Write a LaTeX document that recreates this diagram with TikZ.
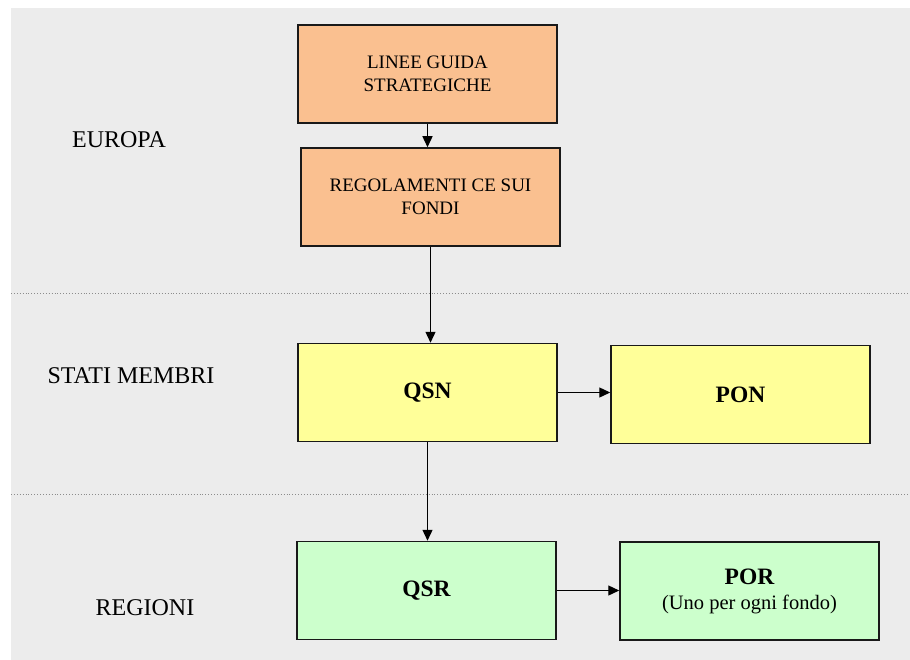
\documentclass[tikz,border=0pt]{standalone}
\usepackage{fontspec}
\setmainfont{Liberation Serif}
\usetikzlibrary{arrows.meta}
\definecolor{bgtex}{RGB}{236,236,236}
\definecolor{peach}{RGB}{250,192,144}
\definecolor{paleyellow}{RGB}{255,255,153}
\definecolor{palegreen}{RGB}{204,255,204}
\tikzstyle{blk}=[rectangle, draw=black!90, line width=1.5pt,
minimum width=259pt, minimum height=98pt, align=center,
font=\fontsize{19}{23.5}\selectfont]
\tikzstyle{eu}=[blk, fill=peach]
\tikzstyle{sm}=[blk, fill=paleyellow, font=\fontsize{23.5}{26}\selectfont\bfseries]
\tikzstyle{rg}=[blk, fill=palegreen, font=\fontsize{23.5}{26}\selectfont\bfseries]
\tikzstyle{lvl}=[font=\fontsize{24}{28}\selectfont]
\tikzstyle{flow}=[-{Triangle[length=11pt,width=10pt]}, line width=1.3pt]
\tikzstyle{sep}=[dotted, black!45, line width=0.9pt]
\begin{document}
\begin{tikzpicture}[x=1pt,y=-1pt]
\useasboundingbox (0,0) rectangle (910,660);
\fill[bgtex] (11,8) rectangle (910,660);
% livelli
\draw[sep] (11,293) -- (910,293);
\draw[sep] (11,494) -- (910,494);
\node[lvl] (europa) at (119,140) {EUROPA};
\node[lvl] (stati) at (131,376) {STATI MEMBRI};
\node[lvl] (regioni) at (145,608) {REGIONI};
% blocchi
\node[eu] (lgs) at (427.5,74) {LINEE GUIDA\\STRATEGICHE};
\node[eu] (reg) at (430.5,197) {REGOLAMENTI CE SUI\\FONDI};
\node[sm] (qsn) at (427.5,392.5) {QSN};
\node[sm] (pon) at (740.5,394.5) {PON};
\node[rg] (qsr) at (426.5,590.5) {QSR};
\node[rg] (por) at (749.5,591) {POR\\[-1pt]{\mdseries\fontsize{20.5}{24}\selectfont (Uno per ogni fondo)}};
% frecce
\draw[flow] (lgs.south) -- (lgs.south |- reg.north);
\draw[flow] (reg.south) -- (reg.south |- qsn.north);
\draw[flow] (qsn.east) -- (qsn.east -| pon.west);
\draw[flow] (qsn.south) -- (qsn.south |- qsr.north);
\draw[flow] (qsr.east) -- (qsr.east -| por.west);
\end{tikzpicture}
\end{document}
